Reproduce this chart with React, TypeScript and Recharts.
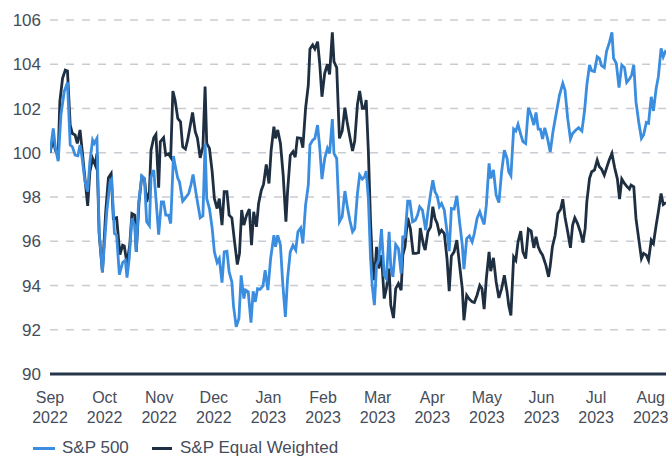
import React from "react";
import { LineChart, Line, XAxis, YAxis, CartesianGrid } from "recharts";

const monthLabels = ["Sep", "Oct", "Nov", "Dec", "Jan", "Feb", "Mar", "Apr", "May", "Jun", "Jul", "Aug"];
const yearLabels = ["2022", "2022", "2022", "2022", "2023", "2023", "2023", "2023", "2023", "2023", "2023", "2023"];
const monthTicks = [0, 1, 2, 3, 4, 5, 6, 7, 8, 9, 10, 11];
const valueTicks = [90, 92, 94, 96, 98, 100, 102, 104, 106];
const seriesNames = ["S&P 500", "S&P Equal Weighted"];

// [months since 1 Sep 2022, index level]
const sp500Series: [number, number][] = [
  [0.0, 100.0], [0.06, 101.1], [0.1, 100.2], [0.15, 99.62], [0.2, 101.7], [0.26, 102.76], [0.32, 103.18], [0.37, 100.35], [0.41, 100.27], [0.46, 99.89],
  [0.51, 99.86], [0.55, 100.35], [0.59, 99.74], [0.64, 98.69], [0.69, 98.24], [0.73, 99.59], [0.78, 100.57], [0.81, 100.42], [0.86, 100.65], [0.9, 96.43],
  [0.96, 94.62], [1.04, 97.33], [1.1, 98.69], [1.13, 98.81], [1.18, 96.35], [1.22, 96.27], [1.27, 94.49], [1.33, 95.04], [1.38, 95.14], [1.41, 94.36],
  [1.45, 95.22], [1.5, 97.03], [1.55, 96.73], [1.58, 95.52], [1.62, 97.63], [1.68, 98.96], [1.73, 98.84], [1.77, 96.88], [1.82, 96.7], [1.85, 98.91],
  [1.9, 99.22], [1.94, 97.93], [1.99, 96.3], [2.04, 97.78], [2.08, 97.78], [2.12, 97.18], [2.17, 97.18], [2.21, 96.8], [2.26, 99.85], [2.29, 99.44],
  [2.34, 98.84], [2.37, 98.69], [2.43, 97.81], [2.48, 97.96], [2.54, 98.16], [2.58, 98.54], [2.62, 99.02], [2.66, 98.39], [2.7, 97.78], [2.75, 97.06],
  [2.8, 97.15], [2.84, 100.42], [2.87, 97.93], [2.92, 97.48], [2.97, 96.58], [3.01, 95.52], [3.06, 95.04], [3.1, 95.22], [3.15, 94.13], [3.19, 95.52],
  [3.24, 95.55], [3.28, 94.62], [3.33, 94.16], [3.36, 93.08], [3.41, 92.13], [3.46, 92.51], [3.5, 94.46], [3.55, 93.41], [3.58, 93.79], [3.63, 93.71],
  [3.68, 92.32], [3.72, 93.74], [3.76, 93.26], [3.8, 93.86], [3.85, 93.83], [3.9, 93.98], [3.94, 94.69], [3.99, 93.79], [4.04, 95.22], [4.1, 96.27],
  [4.13, 95.75], [4.17, 96.27], [4.22, 95.82], [4.26, 94.16], [4.31, 92.58], [4.35, 94.31], [4.4, 95.52], [4.45, 95.82], [4.5, 95.6], [4.54, 96.43],
  [4.59, 96.6], [4.63, 95.9], [4.68, 97.63], [4.73, 98.54], [4.76, 100.35], [4.81, 100.57], [4.85, 100.65], [4.9, 101.25], [4.94, 100.2], [4.98, 98.81],
  [5.03, 99.74], [5.08, 100.2], [5.12, 99.97], [5.17, 101.52], [5.2, 99.97], [5.25, 99.74], [5.3, 96.88], [5.35, 97.11], [5.4, 98.27], [5.44, 97.63],
  [5.49, 96.95], [5.54, 96.43], [5.58, 96.58], [5.63, 98.16], [5.67, 98.99], [5.72, 98.81], [5.76, 98.91], [5.79, 99.17], [5.83, 97.93], [5.87, 95.22],
  [5.9, 94.01], [5.94, 93.11], [5.98, 94.92], [6.02, 95.14], [6.07, 96.55], [6.12, 94.46], [6.16, 94.31], [6.21, 96.43], [6.24, 94.84], [6.28, 94.39],
  [6.33, 95.85], [6.38, 95.67], [6.43, 94.54], [6.46, 96.2], [6.5, 96.2], [6.55, 97.81], [6.59, 97.81], [6.64, 96.88], [6.69, 96.95], [6.73, 97.18],
  [6.77, 97.56], [6.82, 97.41], [6.88, 96.5], [6.92, 97.33], [6.97, 98.16], [7.01, 98.76], [7.05, 98.24], [7.09, 98.05], [7.13, 97.56], [7.17, 97.71],
  [7.22, 97.41], [7.27, 96.43], [7.31, 95.55], [7.35, 97.48], [7.4, 97.45], [7.45, 98.05], [7.5, 96.88], [7.55, 95.82], [7.58, 94.74], [7.63, 96.12],
  [7.68, 96.24], [7.73, 95.97], [7.77, 96.35], [7.82, 97.03], [7.87, 97.33], [7.91, 97.03], [7.95, 96.76], [7.99, 97.63], [8.04, 99.52], [8.07, 98.84],
  [8.12, 99.22], [8.17, 98.08], [8.22, 97.75], [8.27, 99.14], [8.32, 100.12], [8.37, 99.74], [8.4, 99.14], [8.44, 98.96], [8.49, 101.07], [8.53, 100.98],
  [8.57, 101.28], [8.62, 100.83], [8.66, 100.5], [8.71, 100.42], [8.76, 102.04], [8.81, 101.7], [8.86, 101.25], [8.9, 101.82], [8.94, 101.07], [8.98, 101.07],
  [9.02, 100.62], [9.06, 101.13], [9.11, 100.65], [9.16, 100.03], [9.21, 100.95], [9.27, 101.78], [9.33, 102.61], [9.39, 103.14], [9.43, 102.84], [9.48, 101.55],
  [9.53, 100.62], [9.57, 100.87], [9.63, 101.03], [9.68, 101.13], [9.74, 100.98], [9.79, 101.93], [9.83, 103.06], [9.88, 103.97], [9.92, 103.7], [9.97, 103.67],
  [10.02, 104.34], [10.06, 104.27], [10.1, 103.94], [10.15, 103.85], [10.19, 104.57], [10.24, 104.95], [10.29, 105.44], [10.32, 104.27], [10.37, 104.04], [10.42, 102.94],
  [10.47, 103.97], [10.52, 103.85], [10.56, 103.18], [10.61, 103.33], [10.65, 103.51], [10.69, 103.97], [10.73, 102.31], [10.78, 101.4], [10.83, 100.65], [10.87, 100.8],
  [10.92, 101.37], [10.96, 101.33], [11.01, 102.53], [11.05, 101.89], [11.1, 102.91], [11.14, 103.44], [11.19, 104.72], [11.23, 104.34], [11.28, 104.64],
];

const equalWeightedSeries: [number, number][] = [
  [0.0, 100.0], [0.06, 100.6], [0.1, 100.1], [0.15, 99.9], [0.18, 102.31], [0.23, 103.36], [0.28, 103.74], [0.32, 103.7], [0.37, 101.25], [0.41, 100.87],
  [0.46, 100.8], [0.5, 100.42], [0.55, 101.03], [0.59, 100.08], [0.64, 98.84], [0.69, 97.6], [0.73, 99.14], [0.78, 99.74], [0.83, 99.44], [0.86, 99.97],
  [0.9, 96.35], [0.96, 94.59], [1.02, 97.33], [1.07, 98.87], [1.12, 99.06], [1.16, 97.03], [1.22, 97.06], [1.28, 95.4], [1.33, 95.82], [1.36, 95.79],
  [1.41, 94.99], [1.46, 95.82], [1.5, 97.25], [1.55, 97.18], [1.58, 95.52], [1.63, 97.78], [1.68, 98.91], [1.73, 98.81], [1.77, 97.78], [1.82, 98.24],
  [1.85, 100.12], [1.9, 100.68], [1.94, 100.83], [1.99, 98.42], [2.02, 100.5], [2.08, 100.68], [2.12, 99.89], [2.17, 99.95], [2.21, 99.8], [2.25, 102.79],
  [2.29, 102.38], [2.34, 101.55], [2.39, 101.4], [2.43, 100.27], [2.48, 100.17], [2.52, 100.57], [2.57, 101.25], [2.61, 101.82], [2.66, 100.95], [2.7, 100.65],
  [2.75, 99.77], [2.8, 100.27], [2.84, 102.99], [2.87, 100.42], [2.92, 100.2], [2.97, 99.14], [3.01, 97.93], [3.06, 97.48], [3.1, 97.93], [3.15, 96.73],
  [3.19, 98.24], [3.24, 98.24], [3.28, 97.18], [3.33, 97.06], [3.38, 95.97], [3.43, 94.95], [3.47, 95.45], [3.51, 97.41], [3.55, 96.73], [3.6, 97.18],
  [3.65, 97.45], [3.69, 95.82], [3.73, 97.33], [3.78, 96.65], [3.82, 97.71], [3.87, 98.31], [3.91, 98.57], [3.96, 99.47], [4.01, 98.61], [4.05, 100.12],
  [4.1, 101.18], [4.13, 100.65], [4.17, 101.03], [4.22, 100.42], [4.27, 98.99], [4.32, 96.88], [4.35, 98.24], [4.4, 99.89], [4.45, 100.05], [4.49, 99.8],
  [4.53, 100.68], [4.59, 100.66], [4.63, 100.23], [4.68, 102.01], [4.73, 103.06], [4.76, 104.69], [4.81, 104.87], [4.85, 104.69], [4.9, 105.02], [4.94, 104.0],
  [4.98, 102.53], [5.03, 103.59], [5.08, 104.0], [5.12, 103.54], [5.17, 105.44], [5.2, 104.12], [5.25, 103.85], [5.3, 100.65], [5.35, 100.98], [5.4, 102.04],
  [5.44, 101.4], [5.49, 100.72], [5.54, 100.08], [5.58, 100.53], [5.63, 102.19], [5.67, 102.79], [5.72, 102.01], [5.76, 102.01], [5.79, 102.38], [5.83, 100.05],
  [5.87, 96.88], [5.9, 95.22], [5.94, 94.24], [5.98, 95.75], [6.02, 94.77], [6.07, 95.37], [6.12, 93.41], [6.16, 93.86], [6.21, 94.77], [6.24, 93.11],
  [6.29, 92.53], [6.33, 93.86], [6.38, 94.09], [6.43, 93.79], [6.46, 95.37], [6.5, 95.75], [6.55, 97.06], [6.6, 96.55], [6.65, 95.45], [6.7, 95.45],
  [6.75, 95.48], [6.78, 96.6], [6.84, 95.82], [6.87, 95.6], [6.92, 96.43], [6.97, 96.65], [7.01, 97.56], [7.05, 97.03], [7.09, 96.8], [7.13, 96.35],
  [7.17, 96.5], [7.22, 96.35], [7.27, 95.22], [7.31, 93.74], [7.35, 95.34], [7.4, 95.52], [7.45, 96.05], [7.5, 94.92], [7.55, 93.86], [7.58, 92.43],
  [7.63, 93.56], [7.68, 93.38], [7.73, 93.26], [7.77, 93.23], [7.82, 93.56], [7.87, 94.01], [7.91, 93.86], [7.95, 92.93], [7.99, 94.31], [8.04, 95.52],
  [8.07, 94.65], [8.12, 95.25], [8.17, 94.16], [8.22, 93.44], [8.27, 93.86], [8.32, 94.46], [8.37, 93.71], [8.4, 93.11], [8.44, 92.65], [8.49, 95.29],
  [8.53, 95.14], [8.57, 95.97], [8.62, 96.46], [8.66, 95.52], [8.71, 95.22], [8.76, 96.55], [8.81, 96.46], [8.86, 95.7], [8.9, 96.2], [8.94, 95.75],
  [8.98, 95.52], [9.02, 95.37], [9.08, 94.92], [9.13, 94.39], [9.16, 94.89], [9.2, 95.75], [9.25, 96.27], [9.3, 97.25], [9.35, 97.45], [9.39, 97.9],
  [9.43, 97.1], [9.48, 96.43], [9.53, 95.7], [9.57, 96.73], [9.61, 97.06], [9.66, 96.8], [9.71, 96.43], [9.76, 95.94], [9.8, 96.58], [9.83, 97.78],
  [9.88, 98.84], [9.92, 99.14], [9.97, 99.22], [10.02, 99.67], [10.06, 99.37], [10.1, 99.26], [10.15, 98.99], [10.2, 99.37], [10.24, 99.67], [10.29, 99.97],
  [10.34, 99.32], [10.39, 98.81], [10.43, 97.9], [10.47, 98.81], [10.52, 98.61], [10.57, 98.46], [10.61, 98.36], [10.64, 98.54], [10.69, 98.46], [10.73, 97.03],
  [10.78, 96.12], [10.83, 95.22], [10.87, 95.45], [10.92, 95.37], [10.96, 95.14], [11.01, 96.05], [11.05, 95.9], [11.1, 96.73], [11.14, 97.33], [11.19, 98.16],
  [11.23, 97.66], [11.28, 97.75],
];

const toRows = (s: [number, number][]) => s.map(([m, v]) => ({ m, v }));
const sp500Rows = toRows(sp500Series);
const equalRows = toRows(equalWeightedSeries);

const FONT = '"Liberation Sans", Arial, Helvetica, sans-serif';
const TEXT = "#464d5a";
const BLUE = "#3a8ddf";
const NAVY = "#1f2f42";

function MonthTick(props: any) {
  const { x, y, payload } = props;
  const i = Math.round(Number(payload.value));
  return (
    <text x={x} y={y} textAnchor="middle" fill={TEXT} fontSize={16} fontFamily={FONT}>
      <tspan x={x} dy="0.75em">{monthLabels[i]}</tspan>
      <tspan x={x} dy="1.25em">{yearLabels[i]}</tspan>
    </text>
  );
}

export default function App() {
  return (
    <div style={{ position: "fixed", left: 0, top: 0, width: 668, height: 456, overflow: "hidden", background: "#fff", fontFamily: FONT }}>
      <LineChart width={668} height={456} margin={{ top: 20, right: 2, bottom: 0, left: 0 }}>
        <CartesianGrid vertical={false} stroke="#c9ccd2" strokeDasharray="8 8" strokeWidth={1.5} />
        <XAxis
          type="number"
          dataKey="m"
          domain={[0, 11.28]}
          ticks={monthTicks}
          interval={0}
          allowDataOverflow
          tick={<MonthTick />}
          tickLine={false}
          tickSize={0}
          tickMargin={17}
          axisLine={{ stroke: "#26364a", strokeWidth: 3 }}
          height={82}
        />
        <YAxis
          type="number"
          domain={[90, 106]}
          ticks={valueTicks}
          interval={0}
          tickLine={false}
          axisLine={false}
          tickSize={0}
          tickMargin={9}
          width={50}
          tick={{ fill: TEXT, fontSize: 17, fontFamily: FONT }}
        />
        <Line data={equalRows} dataKey="v" name={seriesNames[1]} type="linear" stroke={NAVY} strokeWidth={2.8} dot={false} isAnimationActive={false} />
        <Line data={sp500Rows} dataKey="v" name={seriesNames[0]} type="linear" stroke={BLUE} strokeWidth={2.8} dot={false} isAnimationActive={false} />
      </LineChart>
      <div style={{ position: "absolute", left: 33, top: 446.5, width: 22, height: 3, background: BLUE }} />
      <div style={{ position: "absolute", left: 62, top: 438, height: 20, lineHeight: "20px", fontSize: 17, color: TEXT, whiteSpace: "nowrap" }}>{seriesNames[0]}</div>
      <div style={{ position: "absolute", left: 152, top: 446.5, width: 20, height: 3, background: NAVY }} />
      <div style={{ position: "absolute", left: 180, top: 438, height: 20, lineHeight: "20px", fontSize: 17, color: TEXT, whiteSpace: "nowrap" }}>{seriesNames[1]}</div>
    </div>
  );
}
